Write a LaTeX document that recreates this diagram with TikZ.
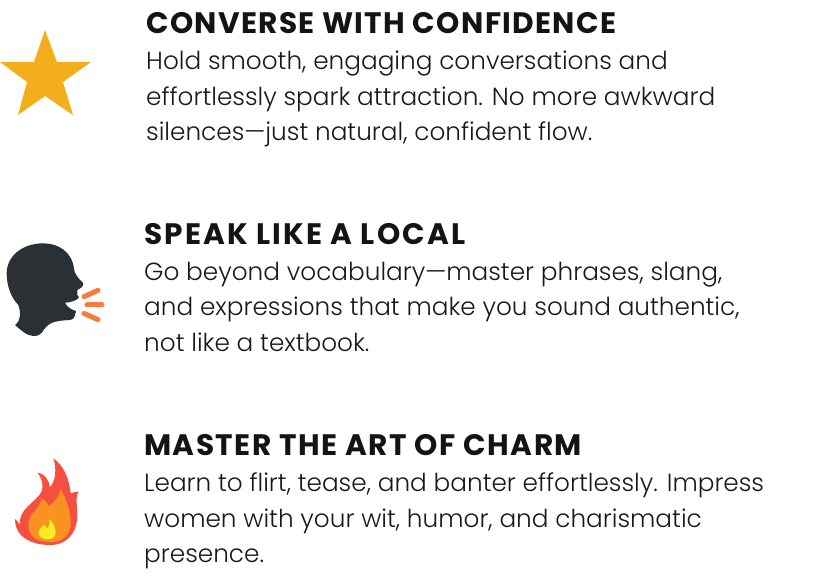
\documentclass[tikz,border=0pt]{standalone}
\usepackage{fontspec}
\usepackage{xcolor}
\usetikzlibrary{positioning}
\newfontfamily\headfont[LetterSpace=4.5]{Poppins}
\newfontfamily\bodyfont[UprightFont=* Light]{Poppins}
\definecolor{starcol}{HTML}{F4AE1B}
\definecolor{headcol}{HTML}{2B3034}
\definecolor{soundcol}{HTML}{FA7A3C}
\definecolor{flameout}{HTML}{F4503F}
\definecolor{flamemid}{HTML}{F7931E}
\definecolor{flamein}{HTML}{FDEB27}
\tikzset{
  title/.style={anchor=base west,inner sep=0pt,font=\headfont\bfseries\fontsize{29.6}{34}\selectfont,text=black!92},
  blurb/.style={anchor=north west,inner sep=0pt,align=left,font=\bodyfont\fontsize{24.75}{35.3}\selectfont,text=black!90},
  icon/.style={x=0.3333pt,y=-0.3333pt},
}
\begin{document}
\begin{tikzpicture}[x=1pt,y=-1pt]
  \useasboundingbox (0,0) rectangle (836,581);

  %% ---- Top item: star ----
  \fill[starcol] (45,30) -- (57,62) -- (91,62) -- (63,82) -- (73,115) -- (45,96)
    -- (18,115) -- (27,82) -- (0,62) -- (34,62) -- cycle;
  \node[title] (converse) at (146,33) {CONVERSE WITH CONFIDENCE};
  \node[blurb,below=18pt of converse.base west,anchor=north west] (conversetext)
    {Hold smooth, engaging conversations and\\
     effortlessly spark attraction. No more awkward\\
     silences—just natural, confident flow.};

  %% ---- Middle item: speaking head ----
  \begin{scope}[icon,shift={(0pt,-230pt)}]
    \fill[headcol] (130,40) .. controls (175,40) and (215,65) .. (222,115)
      .. controls (222,130) and (235,145) .. (250,160)
      .. controls (250,172) and (240,175) .. (232,180)
      -- (232,195) .. controls (240,200) and (235,210) .. (228,210)
      .. controls (218,215) and (205,218) .. (195,218)
      .. controls (200,230) and (215,240) .. (228,243)
      .. controls (225,255) and (225,268) .. (210,270)
      .. controls (190,272) and (165,270) .. (145,285)
      .. controls (125,300) and (130,318) .. (100,318)
      .. controls (80,318) and (60,298) .. (45,285)
      .. controls (65,270) and (62,245) .. (55,225)
      .. controls (35,205) and (20,170) .. (20,130)
      .. controls (20,80) and (65,40) .. (130,40) -- cycle;
    \draw[soundcol,line width=5pt,line cap=round] (252,200) -- (294,181);
    \draw[soundcol,line width=5pt,line cap=round] (261,225) -- (306,225);
    \draw[soundcol,line width=5pt,line cap=round] (252,250) -- (294,269);
  \end{scope}
  \node[title] (speak) at (144,244) {\addfontfeature{LetterSpace=7.2}SPEAK LIKE A LOCAL};
  \node[blurb,below=18pt of speak.base west,anchor=north west] (speaktext)
    {Go beyond vocabulary—master phrases, slang,\\
     and expressions that make you sound authentic,\\
     not like a textbook.};

  %% ---- Bottom item: flame ----
  \begin{scope}[icon,shift={(0pt,-450pt)}]
    \fill[flameout] (150,285) .. controls (100,285) and (45,265) .. (45,207)
      .. controls (52,212) and (56,218) .. (60,225)
      .. controls (55,175) and (105,160) .. (125,125)
      .. controls (132,105) and (125,85) .. (113,68)
      .. controls (135,72) and (147,90) .. (150,112)
      .. controls (168,90) and (170,55) .. (160,25)
      .. controls (190,45) and (208,85) .. (212,130)
      .. controls (218,128) and (228,125) .. (236,125)
      .. controls (225,140) and (232,170) .. (232,195)
      .. controls (232,250) and (200,285) .. (150,285) -- cycle;
    \fill[flamemid] (150,276) .. controls (105,276) and (85,255) .. (85,225)
      .. controls (85,190) and (118,180) .. (125,145)
      .. controls (135,150) and (142,158) .. (146,168)
      .. controls (165,155) and (178,140) .. (182,118)
      .. controls (200,150) and (212,185) .. (212,220)
      .. controls (212,255) and (190,276) .. (150,276) -- cycle;
    \fill[flamein] (143,268) .. controls (125,268) and (115,258) .. (116,245)
      .. controls (118,238) and (125,232) .. (130,224)
      .. controls (135,228) and (140,232) .. (143,236)
      .. controls (148,228) and (150,218) .. (147,207)
      .. controls (158,215) and (167,232) .. (167,248)
      .. controls (167,260) and (158,268) .. (143,268) -- cycle;
  \end{scope}
  \node[title] (master) at (144,455) {\addfontfeature{LetterSpace=5.1}MASTER THE ART OF CHARM};
  \node[blurb,below=18pt of master.base west,anchor=north west] (mastertext)
    {Learn to flirt, tease, and banter effortlessly. Impress\\
     women with your wit, humor, and charismatic\\
     presence.};
\end{tikzpicture}
\end{document}
